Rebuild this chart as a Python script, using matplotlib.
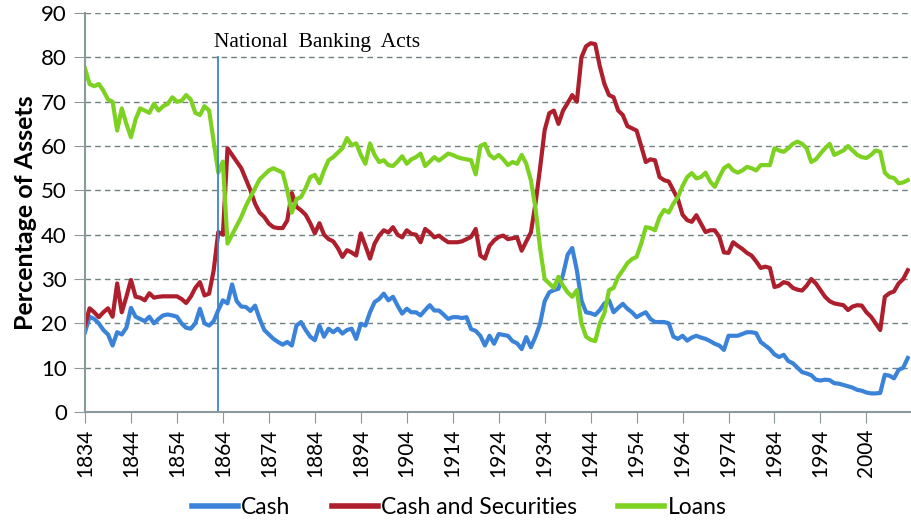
import matplotlib.pyplot as plt

years = list(range(1834, 2014))

cash = [
    18, 21.5, 21, 20, 18.5, 17.5, 15, 18, 17.5, 19,                 # 1834-1843
    23.5, 21.5, 21, 20.5, 21.5, 20, 21, 21.8, 22, 21.8,             # 1844-1853
    21.5, 20, 19, 18.8, 20, 23.3, 20, 19.5, 20.5, 23,               # 1854-1863
    25.2, 24.5, 28.8, 25, 23.8, 23.7, 22.8, 24, 21, 18.5,           # 1864-1873
    17.5, 16.5, 15.8, 15.2, 15.8, 15, 19.5, 20.3, 18.5, 17,         # 1874-1883
    16.2, 19.5, 17, 18.8, 18, 18.8, 17.7, 18.5, 18.8, 16.5,         # 1884-1893
    19.9, 19.5, 22.5, 24.8, 25.5, 26.7, 25.2, 26, 24, 22.2,         # 1894-1903
    23.3, 22.5, 22.5, 21.8, 23, 24.1, 22.9, 22.9, 22, 21,           # 1904-1913
    21.4, 21.4, 21.2, 21.4, 18.7, 18.3, 17.2, 15, 17.2, 15.4,       # 1914-1923
    17.6, 17.4, 17.2, 16, 15.5, 14.2, 16.9, 14.6, 17, 19.9,         # 1924-1933
    25, 27, 27.5, 27.8, 31, 35.5, 37, 32, 25.2, 22.5,               # 1934-1943
    22.3, 21.9, 23, 24.5, 25.2, 22.5, 23.5, 24.4, 23.3, 22.5,       # 1944-1953
    21.4, 22, 22.5, 21, 20.3, 20.3, 20.3, 20, 17, 16.5,             # 1954-1963
    17.2, 16.1, 16.8, 17.2, 16.8, 16.5, 16, 15.4, 15, 14,           # 1964-1973
    17.2, 17.2, 17.2, 17.6, 18, 18, 17.8, 15.8, 15, 14.2,           # 1974-1983
    13, 12.4, 12.9, 11.5, 11, 10, 9, 8.7, 8.3, 7.3,                 # 1984-1993
    7.1, 7.3, 7.2, 6.5, 6.4, 6.1, 5.8, 5.5, 5, 4.8,                 # 1994-2003
    4.4, 4.2, 4.2, 4.3, 8.4, 8.2, 7.6, 9.5, 10, 12.2,               # 2004-2013
]

cash_sec = [
    19.6, 23.4, 22.5, 21.4, 22.5, 23.4, 21.5, 29, 22.5, 26,         # 1834-1843
    29.8, 26, 25.8, 25.2, 26.8, 25.8, 26, 26.1, 26.1, 26.1,         # 1844-1853
    26.1, 25.5, 24.6, 26, 28, 29.3, 26.3, 26.7, 32, 40.6,           # 1854-1863
    40, 59.5, 58, 56.5, 55, 52.5, 50, 47, 45, 44,                   # 1864-1873
    42.5, 41.7, 41.5, 41.5, 43.2, 49.4, 46.3, 45.5, 44.5, 42.6,     # 1874-1883
    40.3, 42.6, 40, 39, 38.5, 37, 35, 36.5, 36, 35.3,               # 1884-1893
    40.3, 37.5, 34.6, 38, 39.8, 41, 40.5, 41.7, 40, 39.4,           # 1894-1903
    41, 40.2, 40, 38.3, 41.3, 40.5, 39.4, 39.8, 39, 38.3,           # 1904-1913
    38.3, 38.3, 38.5, 39, 39.5, 41.3, 35.3, 34.6, 37.5, 38.7,       # 1914-1923
    39.5, 39.8, 39, 39.2, 39.4, 36.4, 38.5, 40.5, 47, 55,           # 1924-1933
    63.6, 67.4, 68, 65, 68, 69.7, 71.5, 70, 80, 82.5,               # 1934-1943
    83.2, 83, 78, 74, 71.5, 71, 68, 67, 64.5, 64,                   # 1944-1953
    63.5, 60, 56.4, 57, 56.8, 53, 52.3, 52, 50, 48,                 # 1954-1963
    44.5, 43.3, 42.9, 44.4, 42.5, 40.6, 41, 41, 39.5, 36,           # 1964-1973
    35.9, 38.3, 37.5, 36.8, 35.9, 35.3, 34, 32.5, 32.8, 32.5,       # 1974-1983
    28.2, 28.5, 29.3, 29, 28, 27.6, 27.4, 28.5, 30, 29,             # 1984-1993
    27.5, 26, 25, 24.5, 24.3, 24.1, 23, 23.8, 24.1, 24,             # 1994-2003
    22.5, 21.5, 20, 18.5, 26, 26.8, 27.2, 29, 30, 32,               # 2004-2013
]

loans = [
    77.5, 74, 73.5, 74, 72.5, 70.5, 70, 63.5, 68.5, 65,             # 1834-1843
    62, 66, 68.5, 68, 67.5, 69.5, 68, 69, 69.5, 71,                 # 1844-1853
    70, 70.2, 71.5, 70.5, 67.5, 67, 69, 68, 61, 54,                 # 1854-1863
    56.5, 38, 40, 42, 44, 46.5, 48.5, 50.5, 52.5, 53.5,             # 1864-1873
    54.5, 55, 54.5, 54, 50, 45, 48, 48.5, 50.5, 53,                 # 1874-1883
    53.5, 51.6, 54.5, 56.8, 57.5, 58.5, 59.5, 61.8, 60.2, 60.6,     # 1884-1893
    58, 56, 60.6, 58, 56.4, 56.8, 55.7, 55.5, 56.5, 57.7,           # 1894-1903
    56, 57, 57.5, 58.3, 55.5, 56.5, 57.5, 56.7, 57.5, 58.3,         # 1904-1913
    58, 57.5, 57.2, 57, 56.8, 53.6, 60, 60.5, 58, 57.2,             # 1914-1923
    58, 57, 55.7, 56.4, 56, 58, 56, 52.3, 46, 37,                   # 1924-1933
    30, 29, 28, 30.5, 28.5, 27, 26, 27.5, 20, 17,                   # 1934-1943
    16.3, 16, 20, 22.3, 27.5, 28, 30.5, 32, 33.6, 34.5,             # 1944-1953
    35, 38, 41.7, 41.5, 41, 44, 45.6, 45, 47, 48.5,                 # 1954-1963
    51, 53, 53.9, 52.7, 53, 54, 52, 50.8, 53, 55,                   # 1964-1973
    55.7, 54.5, 54, 54.5, 55.3, 55, 54.5, 55.7, 55.7, 55.7,         # 1974-1983
    59.5, 59, 58.7, 59.5, 60.5, 61, 60.5, 59.5, 56.4, 57,           # 1984-1993
    58.3, 59.5, 60.5, 58, 58.5, 59, 60, 59, 58, 57.5,               # 1994-2003
    57.3, 58, 59, 58.7, 54, 53, 52.8, 51.6, 51.8, 52.3,             # 2004-2013
]

act_year = 1863
act_label = 'National  Banking  Acts'
tick_years = list(range(1834, 2014, 10))

plt.rcParams['font.family'] = ['Lato', 'DejaVu Sans']

fig = plt.figure(figsize=(9.11, 5.23), dpi=100)
ax = fig.add_axes([0.0933, 0.2122, 0.9057, 0.7628])

ax.plot(years, cash, color='#3a83d9', lw=3, label='Cash')
ax.plot(years, cash_sec, color='#ad1f2c', lw=3, label='Cash and Securities')
ax.plot(years, loans, color='#7dd120', lw=3, label='Loans')

ax.plot([act_year, act_year], [0, 80], color='#3a83d9', lw=1.3)
ax.text(act_year - 0.9, 81.2, act_label, family=['Liberation Serif', 'DejaVu Serif'],
        fontsize=15.5, ha='left', va='bottom')

ax.set_xlim(1834, 2013.5)
ax.set_ylim(0, 90)
ax.set_yticks(range(0, 91, 10))
ax.set_xticks(tick_years)
ax.set_xticklabels([str(y) for y in tick_years], rotation=90, fontsize=15)
ax.tick_params(axis='y', labelsize=16, length=8, color='#8a9a9a', pad=5)
ax.tick_params(axis='x', length=8, color='#8a9a9a', pad=4)

ax.grid(axis='y', color='#6f8080', ls=(0, (4, 3)), lw=1.0)
ax.set_axisbelow(True)
for s in ['top', 'right']:
    ax.spines[s].set_visible(False)
for s in ['left', 'bottom']:
    ax.spines[s].set_color('#8a9a9a')
    ax.spines[s].set_linewidth(1.5)

ax.set_ylabel('Percentage of Assets', fontsize=18, fontweight='bold', labelpad=3)

leg = ax.legend(loc='center', bbox_to_anchor=(0.504, 0.029), bbox_transform=fig.transFigure,
                ncol=3, frameon=False, fontsize=16.5, handlelength=2.0,
                handletextpad=0.15, columnspacing=1.8)
for h in leg.get_lines():
    h.set_linewidth(4)

fig.savefig('out.png', dpi=100)
